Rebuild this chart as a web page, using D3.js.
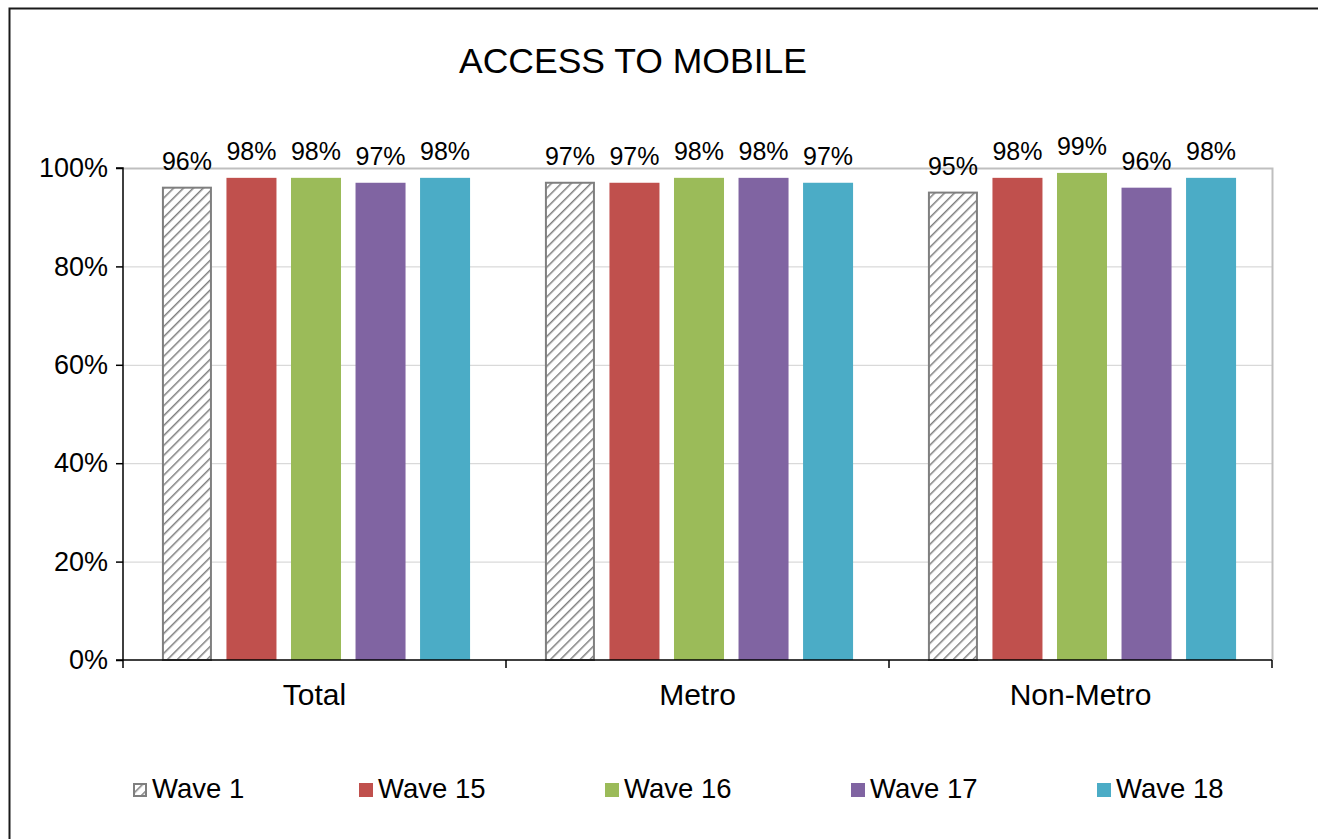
<!DOCTYPE html>
<html>
<head>
<meta charset="utf-8">
<script src="https://cdn.jsdelivr.net/npm/d3@7/dist/d3.min.js"></script>
<style>
  html, body { margin: 0; padding: 0; background: #fff; }
  svg { display: block; font-family: "Liberation Sans", Arial, sans-serif; }
</style>
</head>
<body>
<svg id="chart" width="1318" height="839"></svg>
<script>
// Share of respondents with access to a mobile phone, by area and survey wave
const categories = ["Total", "Metro", "Non-Metro"];
const seriesNames = ["Wave 1", "Wave 15", "Wave 16", "Wave 17", "Wave 18"];
const wave1  = [96, 97, 95];
const wave15 = [98, 97, 98];
const wave16 = [98, 98, 99];
const wave17 = [97, 98, 96];
const wave18 = [98, 97, 98];
const yTicks = [0, 20, 40, 60, 80, 100];
const seriesColors = ["hatch", "#C0504D", "#9BBB59", "#8064A2", "#4BACC6"];

const seriesValues = [wave1, wave15, wave16, wave17, wave18];

const svg = d3.select("#chart");

// diagonal hatch used for the baseline wave
const defs = svg.append("defs");
const pat = defs.append("pattern")
  .attr("id", "hatch")
  .attr("patternUnits", "userSpaceOnUse")
  .attr("width", 7).attr("height", 7)
  .attr("patternTransform", "rotate(45)");
pat.append("rect").attr("width", 7).attr("height", 7).attr("fill", "#fff");
pat.append("line").attr("x1", 0).attr("y1", 0).attr("x2", 0).attr("y2", 7)
  .attr("stroke", "#7f7f7f").attr("stroke-width", 3);

// outer frame
svg.append("rect")
  .attr("x", 9.5).attr("y", 8.5).attr("width", 1330).attr("height", 860)
  .attr("fill", "none").attr("stroke", "#1a1a1a").attr("stroke-width", 2);

const plot = { left: 123, right: 1272, top: 168, bottom: 660 };

const x0 = d3.scaleBand().domain(categories).range([plot.left, plot.right]);
const x1 = d3.scaleBand().domain(seriesNames)
  .range([0, x0.bandwidth()]).paddingInner(0.225).paddingOuter(0.58).align(0.52);
const y = d3.scaleLinear().domain([0, 100]).range([plot.bottom, plot.top]);

// gridlines
svg.append("g").selectAll("line").data(yTicks.filter(d => d > 0)).join("line")
  .attr("x1", plot.left).attr("x2", plot.right)
  .attr("y1", d => y(d) + 0.5).attr("y2", d => y(d) + 0.5)
  .attr("stroke", "#d0d0d0").attr("stroke-width", 1);

// plot area border (top and right)
svg.append("path")
  .attr("d", `M${plot.left},${plot.top + 0.5}H${plot.right + 0.5}V${plot.bottom}`)
  .attr("fill", "none").attr("stroke", "#bfbfbf").attr("stroke-width", 2);

// bars
const groups = svg.append("g").selectAll("g").data(categories).join("g")
  .attr("transform", d => `translate(${x0(d)},0)`);

groups.each(function(cat, ci) {
  const g = d3.select(this);
  seriesNames.forEach((s, si) => {
    const v = seriesValues[si][ci];
    const isHatch = seriesColors[si] === "hatch";
    g.append("rect")
      .attr("x", x1(s) + (isHatch ? 1 : 0))
      .attr("y", y(v))
      .attr("width", x1.bandwidth() - (isHatch ? 2 : 0))
      .attr("height", y(0) - y(v))
      .attr("fill", isHatch ? "url(#hatch)" : seriesColors[si])
      .attr("stroke", isHatch ? "#7f7f7f" : "none")
      .attr("stroke-width", isHatch ? 2 : 0);
    g.append("text")
      .attr("x", x1(s) + x1.bandwidth() / 2)
      .attr("y", y(v) - 18)
      .attr("text-anchor", "middle")
      .attr("font-size", 25)
      .attr("fill", "#000")
      .text(v + "%");
  });
});

// y axis
const yAxis = svg.append("g")
  .attr("transform", `translate(${plot.left},0)`)
  .call(d3.axisLeft(y).tickValues(yTicks).tickFormat(d => d + "%").tickSize(7).tickPadding(8));
yAxis.select(".domain").attr("stroke", "#000").attr("stroke-width", 1.5)
  .attr("d", `M-7,${plot.top}H0V${plot.bottom}`);
yAxis.selectAll(".tick line").attr("stroke", "#000").attr("stroke-width", 1.5);
yAxis.selectAll(".tick text").attr("font-size", 27).attr("fill", "#000")
  .attr("font-family", "Liberation Sans, Arial, sans-serif");

// x axis baseline with category separators
const xAxisG = svg.append("g");
xAxisG.append("line")
  .attr("x1", plot.left - 7).attr("x2", plot.right)
  .attr("y1", plot.bottom).attr("y2", plot.bottom)
  .attr("stroke", "#000").attr("stroke-width", 1.5);
const sepX = categories.map(c => x0(c)).concat([x0(categories[categories.length - 1]) + x0.bandwidth()]);
xAxisG.selectAll("line.sep").data(sepX).join("line").attr("class", "sep")
  .attr("x1", d => d).attr("x2", d => d)
  .attr("y1", plot.bottom).attr("y2", plot.bottom + 8)
  .attr("stroke", "#000").attr("stroke-width", 1.5);
xAxisG.selectAll("text").data(categories).join("text")
  .attr("x", d => x0(d) + x0.bandwidth() / 2)
  .attr("y", 705)
  .attr("text-anchor", "middle")
  .attr("font-size", 30)
  .attr("fill", "#000")
  .text(d => d);

// title
svg.append("text")
  .attr("x", 633).attr("y", 73)
  .attr("text-anchor", "middle")
  .attr("font-size", 35.5)
  .attr("fill", "#000")
  .text("ACCESS TO MOBILE");

// legend
const legendX = [133, 359, 605, 851, 1097];
const legend = svg.append("g").selectAll("g").data(seriesNames).join("g")
  .attr("transform", (d, i) => `translate(${legendX[i]},783)`);
legend.append("rect")
  .attr("x", (d, i) => i === 0 ? 1 : 0).attr("y", (d, i) => i === 0 ? 1 : 0)
  .attr("width", (d, i) => i === 0 ? 12 : 14).attr("height", (d, i) => i === 0 ? 12 : 14)
  .attr("fill", (d, i) => seriesColors[i] === "hatch" ? "url(#hatch)" : seriesColors[i])
  .attr("stroke", (d, i) => i === 0 ? "#7f7f7f" : "none")
  .attr("stroke-width", 2);
legend.append("text")
  .attr("x", 19).attr("y", 15)
  .attr("font-size", 27.5)
  .attr("fill", "#000")
  .text(d => d);
</script>
</body>
</html>
